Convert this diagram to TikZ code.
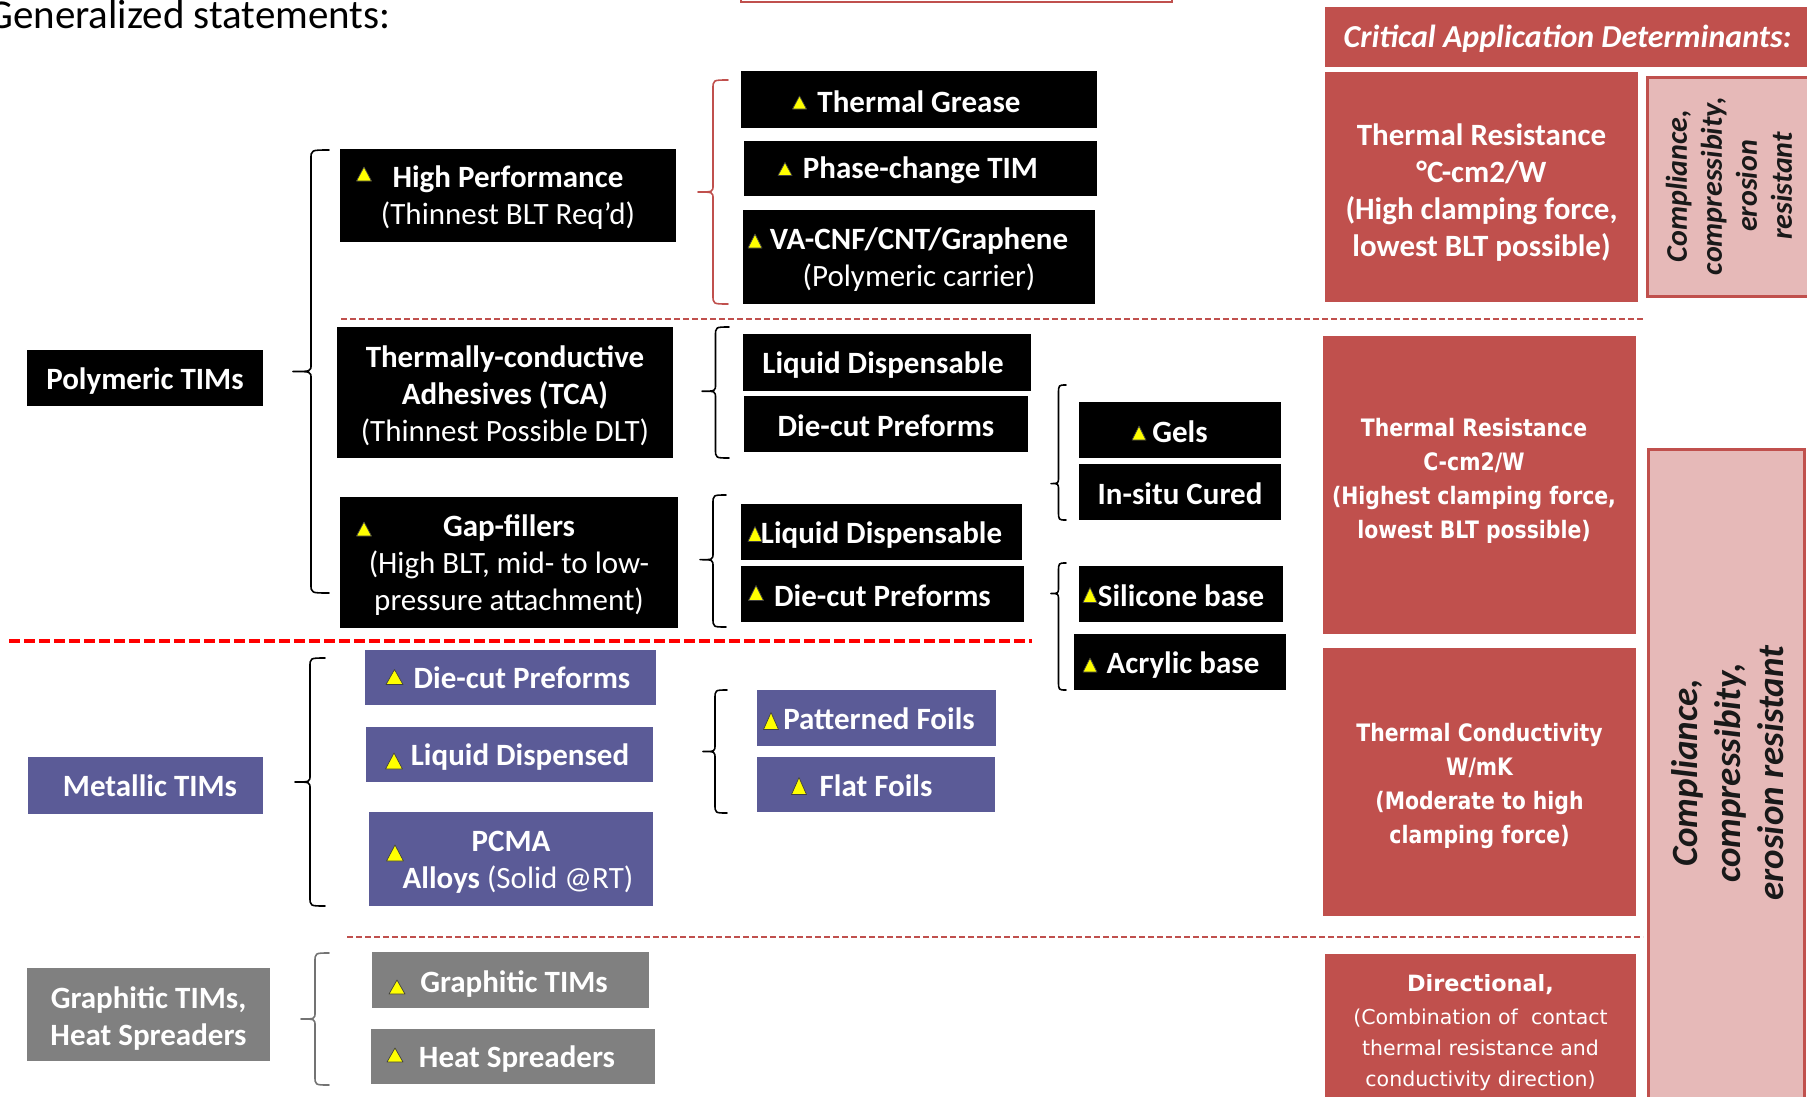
\documentclass[tikz,border=0pt]{standalone}
\usepackage{fontspec}
\setmainfont{Carlito}
\newfontfamily\dvfont{DejaVu Sans}
\newfontfamily\dvcond{DejaVu Sans}[FakeStretch=0.85]
\definecolor{redc}{HTML}{C0504D}
\definecolor{pinkc}{HTML}{E6B9B8}
\definecolor{metc}{HTML}{5B5B97}
\definecolor{gryc}{HTML}{808080}
\definecolor{triy}{HTML}{FFFF00}
\tikzset{
  bx/.style={inner sep=0pt, outer sep=0pt, align=center, text=white},
  fb/.style={font=\fontsize{31}{37}\selectfont\bfseries},
  blk/.style={bx, fb, fill=black},
  metb/.style={bx, fb, fill=metc},
  gryb/.style={bx, fb, fill=gryc},
  redb/.style={bx, fill=redc},
  pinkb/.style={inner sep=0pt, outer sep=0pt, fill=pinkc, draw=redc, line width=3pt},
  tri/.style={fill=triy, draw=black!75, line width=0.7pt, line join=round},
  brc/.style={line width=1.6pt, line cap=round, line join=round},
  thindash/.style={draw=redc, line width=2pt, dash pattern=on 6pt off 3pt},
  thickdash/.style={draw=red, line width=3.5pt, dash pattern=on 11pt off 4pt},
  pinktxt/.style={inner sep=0pt, align=center, text=black!90, rotate=90},
}
% filled box with text: style, name, x1, y1, x2, y2, text shift, text
\newcommand\boxat[8]{\node[#1, minimum width={#5-#3}, minimum height={#6-#4}] (#2) at ({(#3+#5)/2},{(#4+#6)/2}) {};
\node[#1, fill=none, draw=none, minimum width=0pt, minimum height=0pt, yshift=#7] (#2t) at (#2.center) {#8};}
% box without text: style, name, x1, y1, x2, y2
\newcommand\plainbox[6]{\node[#1, minimum width={#5-#3}, minimum height={#6-#4}] (#2) at ({(#3+#5)/2},{(#4+#6)/2}) {};}
\newcommand\tri[4]{\draw[tri] ({#1-#3/2},{#2+#4/2}) -- ({#1+#3/2},{#2+#4/2}) -- (#1,{#2-#4/2}) -- cycle;}
% brace: style, x right, top, bottom, width, aspect
\newcommand\lbr[6]{\draw[brc,#1] (#2,#3) .. controls ({#2-#5/2},#3) .. ({#2-#5/2},{#3+9}) -- ({#2-#5/2},{#3+#6*(#4-#3)-7}) .. controls ({#2-#5/2},{#3+#6*(#4-#3)}) .. ({#2-#5},{#3+#6*(#4-#3)}) .. controls ({#2-#5/2},{#3+#6*(#4-#3)}) .. ({#2-#5/2},{#3+#6*(#4-#3)+7}) -- ({#2-#5/2},{#4-9}) .. controls ({#2-#5/2},#4) .. (#2,#4);}
\begin{document}
\begin{tikzpicture}[x=1pt,y=-1pt]
\useasboundingbox (0,0) rectangle (1807,1096);
\fill[white] (0,0) rectangle (1807,1096);
% title
\node[anchor=base west, inner sep=0pt, font=\fontsize{41}{48}\selectfont] (gen) at (-13,28) {Generalized statements:};
\plainbox{draw=redc, line width=2pt, inner sep=0pt}{topbox}{741}{-30}{1172}{2}
% separators
\draw[thindash] (341,319) -- (1643,319);
\draw[thickdash] (9,641) -- (1032,641);
\draw[thindash] (347,937) -- (1643,937);
% polymeric
\boxat{blk}{tg}{741}{71}{1097}{128}{-2pt}{Thermal Grease}
\boxat{blk}{pc}{744}{141}{1097}{196}{-2pt}{Phase-change TIM}
\boxat{blk}{va}{743}{210}{1095}{304}{-3pt}{VA-CNF/CNT/Graphene\\\mdseries (Polymeric carrier)}
\boxat{blk}{hp}{340}{149}{676}{242}{-2pt}{High Performance\\\mdseries (Thinnest BLT Req’d)}
\boxat{blk}{poly}{27}{350}{263}{406}{-3pt}{Polymeric TIMs}
\boxat{blk}{tca}{337}{327}{673}{458}{-3pt}{Thermally-conductive\\Adhesives (TCA)\\\mdseries (Thinnest Possible DLT)}
\boxat{blk}{ldA}{743}{334}{1031}{391}{-3pt}{\hspace*{-8pt}Liquid Dispensable}
\boxat{blk}{dcA}{744}{396}{1028}{452}{-2pt}{Die-cut Preforms}
\boxat{blk}{gels}{1079}{402}{1281}{458}{-2pt}{Gels}
\boxat{blk}{insitu}{1079}{464}{1281}{520}{-2pt}{In-situ Cured}
\boxat{blk}{gap}{340}{497}{678}{628}{-3pt}{Gap-fillers\\\mdseries (High BLT, mid- to low-\\\mdseries pressure attachment)}
\boxat{blk}{ldB}{741}{504}{1022}{560}{-3pt}{Liquid Dispensable}
\boxat{blk}{dcB}{741}{566}{1024}{622}{-2pt}{Die-cut Preforms}
\boxat{blk}{sil}{1079}{566}{1283}{622}{-2pt}{Silicone base}
\boxat{blk}{acr}{1074}{634}{1286}{690}{-3pt}{\hspace*{6pt}Acrylic base}
% metallic
\boxat{metb}{mdc}{365}{650}{656}{705}{0pt}{\hspace*{23pt}Die-cut Preforms}
\boxat{metb}{mld}{366}{727}{653}{782}{-3pt}{\hspace*{21pt}Liquid Dispensed}
\boxat{metb}{pcma}{369}{812}{653}{906}{-3pt}{PCMA\\\hspace*{14pt}Alloys {\mdseries (Solid @RT)}}
\boxat{metb}{met}{28}{757}{263}{814}{0pt}{\hspace*{9pt}Metallic TIMs}
\boxat{metb}{pat}{757}{690}{996}{746}{-1pt}{\hspace*{5pt}Patterned Foils}
\boxat{metb}{flat}{757}{757}{995}{812}{-1pt}{Flat Foils}
% graphitic
\boxat{gryb}{gra}{27}{968}{270}{1061}{-4pt}{Graphitic TIMs,\\Heat Spreaders}
\boxat{gryb}{gt}{372}{952}{649}{1008}{-4pt}{\hspace*{7pt}Graphitic TIMs}
\boxat{gryb}{hs}{371}{1029}{655}{1084}{-3pt}{\hspace*{8pt}Heat Spreaders}
% right column
\boxat{redb, font=\fontsize{32}{38}\selectfont\bfseries\itshape}{hdr}{1325}{7}{1810}{67}{-2pt}{Critical Application Determinants:}
\boxat{redb, font=\fontsize{31}{37}\selectfont\bfseries}{trA}{1325}{72}{1638}{302}{-6pt}{Thermal Resistance\\°C-cm2/W\\(High clamping force,\\lowest BLT possible)}
\plainbox{redb}{trB}{1323}{336}{1636}{634}
\node[bx, font=\dvcond\bfseries\fontsize{24}{34}\selectfont] (trBt) at (1474,481) {Thermal Resistance\\C-cm2/W\\(Highest clamping force,\\lowest BLT possible)};
\boxat{redb, font=\dvcond\bfseries\fontsize{24}{34}\selectfont}{tc}{1323}{648}{1636}{916}{-4pt}{Thermal Conductivity\\W/mK\\(Moderate to high\\clamping force)}
\plainbox{redb}{dir}{1325}{954}{1636}{1110}
\node[bx, anchor=north, font=\dvfont\fontsize{20.5}{31}\selectfont] (dirt) at (1480.5,974) {{\bfseries\fontsize{22.4}{31}\selectfont Directional,}\\[2pt](Combination of\ \ contact\\thermal resistance and\\conductivity direction)};
\plainbox{pinkb}{pkA}{1647}{77}{1820}{296}
\plainbox{pinkb}{pkB}{1648}{449}{1804}{1110}
\node[pinktxt, font=\fontsize{30}{35}\selectfont\bfseries\itshape] (pkAt) at (1729,186) {Compliance,\\compressibity,\\erosion\\resistant};
\node[pinktxt, font=\fontsize{37}{43}\selectfont\bfseries\itshape] (pkBt) at (1728,773) {Compliance,\\compressibity,\\erosion resistant};
% braces
\lbr{black}{329}{150}{593}{36}{0.5}
\lbr{redc}{728}{80}{304}{30}{0.5}
\lbr{black}{729}{327}{458}{27}{0.49}
\lbr{black}{1066}{385}{520}{15}{0.73}
\lbr{black}{726}{495}{627}{26}{0.49}
\lbr{black}{1066}{563}{690}{15}{0.24}
\lbr{black}{325}{658}{906}{30}{0.5}
\lbr{black}{727}{690}{813}{24}{0.5}
\lbr{black!55}{329}{953}{1085}{28}{0.5}
% triangles
\tri{799.5}{102.5}{14}{13}
\tri{785}{169}{14}{13}
\tri{755}{241}{14}{14}
\tri{364}{174}{15}{14}
\tri{364}{529}{15}{14}
\tri{1139}{433}{14}{14}
\tri{755}{534}{14}{15}
\tri{756}{593}{15}{15}
\tri{1090}{595}{14}{15}
\tri{1090}{665}{14}{14}
\tri{394.5}{677}{17}{15}
\tri{394}{761}{17}{16}
\tri{395}{853}{17}{16}
\tri{771}{721}{15}{17}
\tri{799}{786}{15}{17}
\tri{397}{987}{16}{14}
\tri{395}{1055}{16}{14}
\end{tikzpicture}
\end{document}
